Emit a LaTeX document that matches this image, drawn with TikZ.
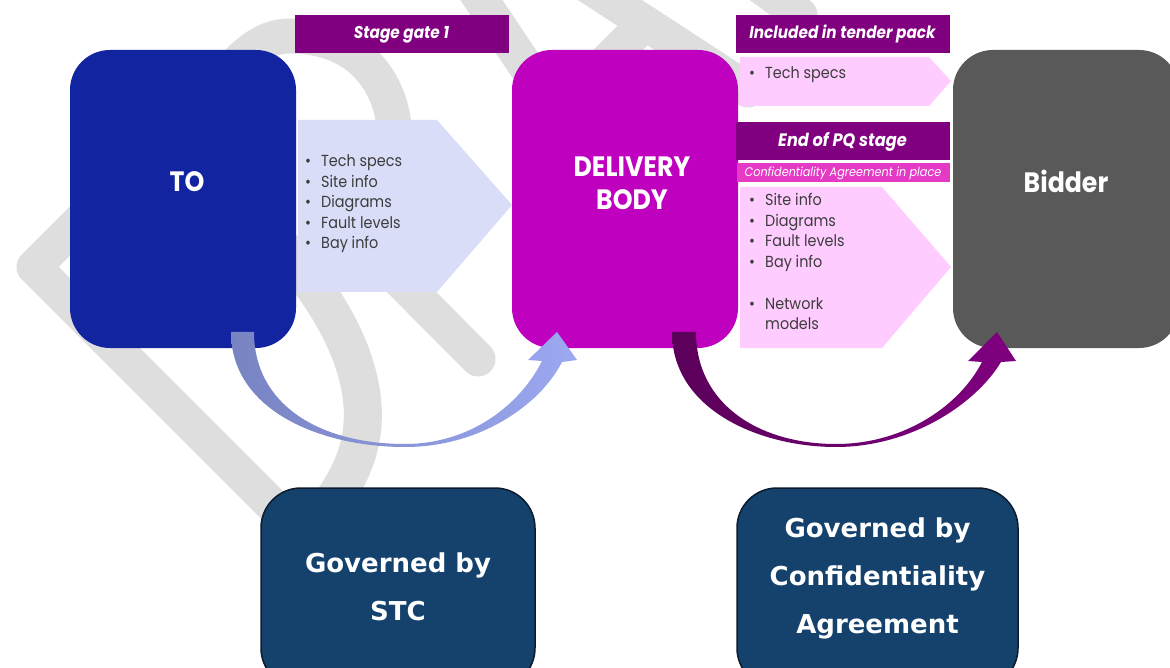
\documentclass[tikz,border=0pt]{standalone}
\usepackage{fontspec}
\newfontfamily\pop[FakeStretch=0.9]{Poppins}
\newfontfamily\dvb{DejaVu Sans}
\definecolor{toblue}{RGB}{19,36,161}
\definecolor{dbmag}{RGB}{191,0,191}
\definecolor{bidgray}{RGB}{89,89,89}
\definecolor{labpurple}{RGB}{128,0,128}
\definecolor{lblue}{RGB}{217,221,248}
\definecolor{lpink}{RGB}{255,204,255}
\definecolor{confpink}{RGB}{229,58,198}
\definecolor{navy}{RGB}{20,66,108}
\definecolor{navyline}{RGB}{12,28,46}
\definecolor{wmgray}{RGB}{222,222,222}
\definecolor{txtgray}{RGB}{60,60,60}
\definecolor{aoneL}{RGB}{120,131,194}
\definecolor{aoneR}{RGB}{156,168,240}
\definecolor{atwoL}{RGB}{90,0,90}
\definecolor{atwoR}{RGB}{128,0,128}
\begin{document}
\begin{tikzpicture}[x=1pt,y=-1pt,
  wm/.style={draw=wmgray, line width=35pt, line cap=round, line join=round},
  bigbox/.style={rounded corners=40pt, inner sep=0pt, minimum width=226pt, minimum height=298pt},
  govbox/.style={rounded corners=40pt, inner sep=0pt, fill=navy, draw=navyline, line width=1.5pt},
  lblbox/.style={fill=labpurple, inner sep=0pt, minimum width=214pt, minimum height=38pt},
  boxtxt/.style={inner sep=0pt, anchor=base, text=white, font={\pop\bfseries\fontsize{28}{30}\selectfont}},
  lbltxt/.style={inner sep=0pt, anchor=base, text=white, font={\pop\bfseries\itshape\fontsize{17}{19}\selectfont}},
  blt/.style={inner sep=0pt, anchor=base west, text=txtgray, font={\pop\fontsize{16}{18}\selectfont}},
  govtxt/.style={inner sep=0pt, anchor=base, text=white, font={\dvb\bfseries\fontsize{26}{28}\selectfont}}
]
\useasboundingbox (0,0) rectangle (1170,668);
\clip (0,0) rectangle (1170,668);
\fill[white] (0,0) rectangle (1170,668);

% watermark
\draw[wm] (300,533) -- (34,267) -- (200,101) .. controls (235,66) and (255,36) .. (290,36)
  .. controls (365,36) and (398,90) .. (395,150) -- (360,240) -- (478,359);
\draw[wm, line width=38pt] (250,215) .. controls (320,280) and (370,360) .. (362,430)
  .. controls (358,465) and (340,495) .. (310,530);
\draw[wm] (468,-20) -- (545,95);
\draw[wm] (570,-26) -- (748,90);
\draw[wm] (645,23) -- (535,133);
\draw[wm] (745,-25) -- (800,15);

% main boxes
\node[bigbox, fill=toblue] (to) at (183,199) {};
\node[bigbox, fill=dbmag] (db) at (625,199) {};
\node[bigbox, fill=bidgray] (bid) at (1066,199) {};

\node[boxtxt] (totxt) at (187,192) {TO};
\node[boxtxt] (dbtxt1) at (632,177) {DELIVERY};
\node[boxtxt] (dbtxt2) at (632,210) {BODY};
\node[boxtxt] (bidtxt) at (1066,193) {Bidder};

% chevron arrows
\fill[lblue] (298,120) -- (437,120) -- (512,205) -- (437,292) -- (298,292) -- cycle;
\fill[lpink] (740,57) -- (929,57) -- (951,81) -- (929,106) -- (740,106) -- cycle;
\fill[lpink] (740,187) -- (882,187) -- (951,267) -- (882,348) -- (740,348) -- cycle;

% labels
\node[lblbox] (sg) at (401.5,34) {};
\node[lbltxt] (sgtxt) at (401.5,39) {Stage gate 1};
\node[lblbox] (inc) at (842.5,34) {};
\node[lbltxt] (inctxt) at (842.5,39) {Included in tender pack};
\node[lblbox] (pq) at (842.5,141.5) {};
\node[lbltxt, font={\pop\bfseries\itshape\fontsize{18}{20}\selectfont}] (pqtxt) at (842.5,147) {End of PQ stage};
\node[fill=confpink, inner sep=0pt, minimum width=213pt, minimum height=19pt] (conf) at (843.5,172.5) {};
\node[inner sep=0pt, anchor=base, text=white, font={\pop\itshape\fontsize{12.5}{14}\selectfont}] (conftxt) at (843,176.5) {Confidentiality Agreement in place};

% bullet lists
\foreach \t [count=\i] in {Tech specs, Site info, Diagrams, Fault levels, Bay info} {
  \node[blt, name=lb\i] at (305,146.5+20.5*\i) {\makebox[16pt][l]{•}\t};
}
\node[blt] (pk1) at (749,79) {\makebox[16pt][l]{•}Tech specs};
\node[blt] (pk2) at (749,206) {\makebox[16pt][l]{•}Site info};
\node[blt] (pk3) at (749,226.5) {\makebox[16pt][l]{•}Diagrams};
\node[blt] (pk4) at (749,247) {\makebox[16pt][l]{•}Fault levels};
\node[blt] (pk5) at (749,267.5) {\makebox[16pt][l]{•}Bay info};
\node[blt] (pk6) at (749,309) {\makebox[16pt][l]{•}Network};
\node[blt] (pk7) at (749,329.5) {\makebox[16pt][l]{}models};

% curved arrows
\shade[left color=aoneL, right color=aoneR]
  (231,332) .. controls (231,410) and (320,447) .. (405,447)
  .. controls (480,447) and (540,405) .. (562,362)
  -- (577,360) -- (557,332) -- (528,360) -- (542,361)
  .. controls (520,405) and (470,444) .. (405,444)
  .. controls (320,444) and (254,405) .. (254,332) -- cycle;
\shade[left color=atwoL, right color=atwoR]
  (672,332) .. controls (672,410) and (760,447) .. (836,447)
  .. controls (910,447) and (975,405) .. (1001,362)
  -- (1016,361) -- (997,332) -- (968,361) -- (982,362)
  .. controls (960,405) and (905,444) .. (836,444)
  .. controls (760,444) and (696,405) .. (696,332) -- cycle;

% governance boxes
\node[govbox, minimum width=274pt, minimum height=200pt] (stc) at (398,588) {};
\node[govbox, minimum width=281pt, minimum height=200pt] (ca) at (877.5,588) {};
\node[govtxt] (stc1) at (398,572) {Governed by};
\node[govtxt] (stc2) at (398,620) {STC};
\node[govtxt] (ca1) at (877.5,537) {Governed by};
\node[govtxt] (ca2) at (877.5,585) {Confidentiality};
\node[govtxt] (ca3) at (877.5,633) {Agreement};
\end{tikzpicture}
\end{document}
